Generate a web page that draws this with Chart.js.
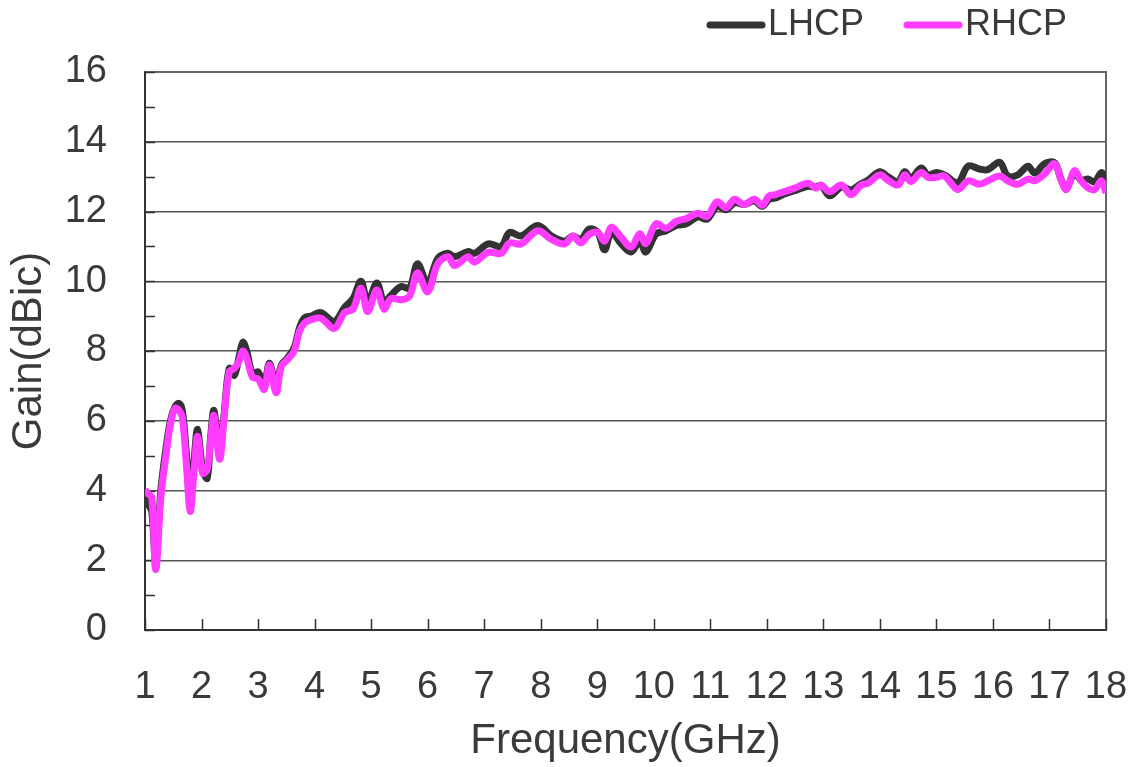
<!DOCTYPE html>
<html>
<head>
<meta charset="utf-8">
<script src="https://cdn.jsdelivr.net/npm/chart.js"></script>
<style>
  html, body { margin: 0; padding: 0; background: #fff; }
  #wrap { width: 1131px; height: 767px; }
</style>
</head>
<body>
<div id="wrap"><canvas id="gainChart"></canvas></div>
<script>
// frequency points (GHz)
const freqGHz = [
  1.00, 1.06, 1.12, 1.19, 1.28, 1.37, 1.45, 1.53, 1.60, 1.66,
  1.73, 1.80, 1.87, 1.93, 2.02, 2.10, 2.16, 2.22, 2.32, 2.40,
  2.49, 2.58, 2.66, 2.73, 2.80, 2.90, 3.00, 3.11, 3.20, 3.32,
  3.41, 3.52, 3.64, 3.73, 3.82, 3.94, 4.11, 4.35, 4.53, 4.68,
  4.82, 4.94, 5.10, 5.23, 5.35, 5.53, 5.68, 5.82, 6.00, 6.18,
  6.36, 6.48, 6.71, 6.83, 7.07, 7.30, 7.45, 7.65, 7.95, 8.19,
  8.42, 8.57, 8.71, 8.86, 9.01, 9.13, 9.25, 9.42, 9.60, 9.75,
  9.86, 10.04, 10.22, 10.40, 10.58, 10.78, 10.94, 11.12, 11.28, 11.43,
  11.60, 11.78, 11.92, 12.04, 12.14, 12.31, 12.49, 12.73, 12.87, 12.96,
  13.11, 13.32, 13.49, 13.67, 13.79, 14.00, 14.14, 14.32, 14.44, 14.55,
  14.73, 14.85, 15.00, 15.14, 15.38, 15.56, 15.76, 15.91, 16.12, 16.26,
  16.44, 16.62, 16.74, 16.91, 17.09, 17.21, 17.30, 17.44, 17.56, 17.68,
  17.80, 17.92, 18.00
];

// LHCP gain (dBic)
const lhcpGain = [
  3.80, 3.60, 3.40, 1.90, 4.00, 5.20, 6.00, 6.40, 6.50, 6.30,
  5.10, 3.70, 4.90, 5.75, 4.60, 4.35, 5.50, 6.30, 5.10, 6.20,
  7.50, 7.30, 7.80, 8.25, 8.00, 7.35, 7.40, 7.05, 7.65, 7.00,
  7.60, 7.80, 8.10, 8.65, 8.95, 9.00, 9.10, 8.85, 9.25, 9.50,
  10.00, 9.40, 9.95, 9.40, 9.60, 9.85, 9.80, 10.50, 9.95, 10.65,
  10.80, 10.70, 10.85, 10.80, 11.07, 11.00, 11.40, 11.30, 11.60, 11.30,
  11.15, 11.30, 11.20, 11.50, 11.40, 10.90, 11.40, 11.08, 10.84, 11.15,
  10.84, 11.35, 11.45, 11.60, 11.65, 11.85, 11.78, 12.15, 12.05, 12.25,
  12.20, 12.30, 12.15, 12.35, 12.38, 12.50, 12.60, 12.72, 12.70, 12.75,
  12.45, 12.70, 12.62, 12.80, 12.90, 13.14, 13.00, 12.85, 13.14, 12.95,
  13.25, 13.05, 13.12, 13.05, 12.83, 13.30, 13.22, 13.20, 13.41, 13.02,
  13.05, 13.30, 13.10, 13.37, 13.40, 12.90, 12.65, 13.10, 12.90, 12.93,
  12.85, 13.12, 12.88
];

// RHCP gain (dBic)
const rhcpGain = [
  4.02, 3.90, 3.80, 1.73, 3.80, 5.00, 5.90, 6.35, 6.30, 6.10,
  4.80, 3.40, 4.60, 5.55, 4.50, 4.60, 5.40, 6.15, 4.90, 6.10,
  7.40, 7.50, 7.70, 8.00, 7.80, 7.25, 7.20, 6.90, 7.60, 6.80,
  7.55, 7.75, 8.00, 8.55, 8.80, 8.90, 8.94, 8.65, 9.10, 9.20,
  9.80, 9.13, 9.75, 9.20, 9.50, 9.47, 9.57, 10.24, 9.70, 10.50,
  10.70, 10.45, 10.70, 10.55, 10.83, 10.80, 11.10, 11.07, 11.45, 11.20,
  11.07, 11.30, 11.10, 11.35, 11.40, 11.15, 11.55, 11.27, 10.98, 11.36,
  11.08, 11.65, 11.52, 11.72, 11.80, 11.95, 11.86, 12.28, 12.11, 12.35,
  12.20, 12.35, 12.18, 12.45, 12.48, 12.57, 12.67, 12.81, 12.67, 12.76,
  12.57, 12.76, 12.48, 12.76, 12.81, 13.05, 12.90, 12.76, 13.05, 12.86,
  13.12, 12.98, 12.98, 13.02, 12.63, 12.88, 12.78, 12.88, 13.02, 12.88,
  12.78, 12.93, 12.88, 13.07, 13.37, 12.88, 12.63, 13.17, 12.88, 12.68,
  12.63, 12.88, 12.54
];

const xTicks = [1, 2, 3, 4, 5, 6, 7, 8, 9, 10, 11, 12, 13, 14, 15, 16, 17, 18];
const yTicks = [0, 2, 4, 6, 8, 10, 12, 14, 16];
const yMinorTicks = [0, 1, 2, 3, 4, 5, 6, 7, 8, 9, 10, 11, 12, 13, 14, 15, 16];

const seriesNames = ['LHCP', 'RHCP'];
const seriesColors = ['#333333', '#ff3cff'];

const FONT = "'Liberation Sans', Arial, sans-serif";
const TEXT_COLOR = '#3a3a3a';

// 枠線と内向きの目盛り
const frameAndTicks = {
  id: 'frameAndTicks',
  beforeDatasetsDraw(chart) {
    const { ctx, chartArea: a, scales } = chart;
    ctx.save();
    ctx.strokeStyle = '#666';
    ctx.lineWidth = 2;
    ctx.beginPath();
    ctx.moveTo(a.left, a.top);
    ctx.lineTo(a.right, a.top);
    ctx.lineTo(a.right, a.bottom);
    ctx.stroke();

    ctx.strokeStyle = '#333';
    ctx.lineWidth = 1.5;
    ctx.beginPath();
    xTicks.forEach(v => {
      const px = Math.round(scales.x.getPixelForValue(v)) + 0.5;
      ctx.moveTo(px, a.bottom);
      ctx.lineTo(px, a.bottom - 11);
    });
    yMinorTicks.forEach(v => {
      const py = Math.round(scales.y.getPixelForValue(v)) + 0.5;
      ctx.moveTo(a.left, py);
      ctx.lineTo(a.left + 10, py);
    });
    ctx.stroke();
    ctx.restore();
  },
};

// 右上の凡例
const legendSpots = [
  { x: 710, y: 25 },
  { x: 907, y: 25 },
];
const topLegend = {
  id: 'topLegend',
  afterDraw(chart) {
    const { ctx } = chart;
    ctx.save();
    chart.data.datasets.forEach((ds, i) => {
      const spot = legendSpots[i];
      ctx.strokeStyle = ds.borderColor;
      ctx.lineWidth = 7;
      ctx.lineCap = 'round';
      ctx.beginPath();
      ctx.moveTo(spot.x, spot.y);
      ctx.lineTo(spot.x + 52, spot.y);
      ctx.stroke();
      ctx.fillStyle = TEXT_COLOR;
      ctx.font = `36px ${FONT}`;
      ctx.textBaseline = 'middle';
      ctx.textAlign = 'left';
      ctx.fillText(ds.label, spot.x + 58, spot.y);
    });
    ctx.restore();
  },
};

const datasets = [lhcpGain, rhcpGain].map((vals, i) => ({
  label: seriesNames[i],
  data: freqGHz.map((f, j) => ({ x: f, y: vals[j] })),
  borderColor: seriesColors[i],
  backgroundColor: seriesColors[i],
  borderWidth: 7,
  pointRadius: 0,
  tension: 0.35,
  fill: false,
  order: i === 0 ? 1 : 0,
}));

new Chart(document.getElementById('gainChart'), {
  type: 'line',
  data: { datasets },
  options: {
    responsive: true,
    maintainAspectRatio: false,
    animation: false,
    devicePixelRatio: 1,
    layout: { padding: { top: 72, right: 25, left: 0, bottom: 0 } },
    plugins: {
      legend: { display: false },
      tooltip: { enabled: false },
    },
    scales: {
      x: {
        type: 'linear',
        min: 1,
        max: 18,
        afterBuildTicks: scale => {
          scale.ticks = xTicks.map(v => ({ value: v }));
        },
        afterFit: scale => {
          scale.height = 137;
          scale.paddingLeft = 0;
          scale.paddingRight = 0;
        },
        grid: { display: false, drawTicks: false },
        border: { display: true, color: '#333', width: 2 },
        ticks: {
          autoSkip: false,
          maxRotation: 0,
          padding: 35,
          color: TEXT_COLOR,
          font: { family: FONT, size: 38 },
        },
        title: {
          display: true,
          text: 'Frequency(GHz)',
          color: TEXT_COLOR,
          font: { family: FONT, size: 42 },
          padding: { top: 0, bottom: 0 },
        },
      },
      y: {
        min: 0,
        max: 16,
        afterBuildTicks: scale => {
          scale.ticks = yTicks.map(v => ({ value: v }));
        },
        afterFit: scale => {
          scale.width = 145;
        },
        grid: {
          drawTicks: false,
          color: '#555',
          lineWidth: 1.5,
        },
        border: { display: true, color: '#333', width: 2 },
        ticks: {
          padding: 38,
          color: TEXT_COLOR,
          font: { family: FONT, size: 38 },
        },
        title: {
          display: true,
          text: 'Gain(dBic)',
          color: TEXT_COLOR,
          font: { family: FONT, size: 42 },
          padding: { top: 4, bottom: 0 },
        },
      },
    },
  },
  plugins: [frameAndTicks, topLegend],
});
</script>
</body>
</html>
